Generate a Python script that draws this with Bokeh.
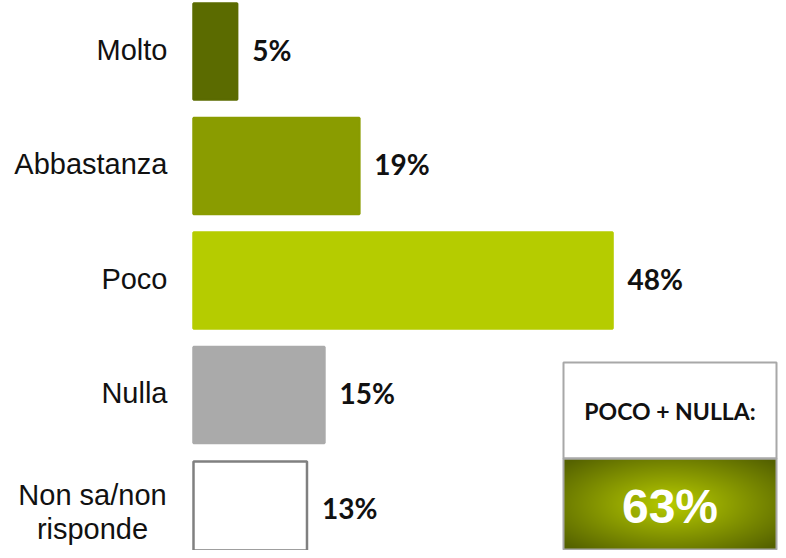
import numpy as np
from bokeh.plotting import figure
from bokeh.models import ColumnDataSource, Range1d
from bokeh.core.properties import value
from bokeh.embed import file_html
from bokeh.resources import INLINE

# ---- data ----
categories = ["Molto", "Abbastanza", "Poco", "Nulla", "Non sa/non risponde"]
label_lines = [["Molto"], ["Abbastanza"], ["Poco"], ["Nulla"], ["Non sa/non", "risponde"]]
percentages = [5, 19, 48, 15, 13]
value_labels = ["5%", "19%", "48%", "15%", "13%"]
summary_title = "POCO + NULLA:"
summary_value = percentages[2] + percentages[3]
summary_label = f"{summary_value}%"

fill_colors = ["#5b6b00", "#8a9c00", "#b5cc00", "#aaaaaa", "#ffffff"]
line_colors = ["#5b6b00", "#8a9c00", "#b5cc00", "#aaaaaa", "#808080"]

W, H = 778, 550
px_per_pct = 8.73
x_left_px = 193
row_px = 114.5
top_off = 51

x_start = -x_left_px / px_per_pct
x_end = (W - x_left_px) / px_per_pct
y_top = -top_off / row_px
y_bot = y_top + H / row_px

p = figure(width=W, height=H, output_backend="svg", toolbar_location=None,
           x_range=Range1d(x_start, x_end), y_range=Range1d(y_bot, y_top),
           min_border=0, outline_line_color=None, background_fill_color="white",
           border_fill_color="white")
p.axis.visible = False
p.grid.visible = False

idx = list(range(len(categories)))
src = ColumnDataSource(dict(y=idx, right=percentages, fill=fill_colors, line=line_colors,
                            lab=value_labels))
p.hbar(y="y", left=0, right="right", height=0.84, fill_color="fill", line_color="line",
       line_width=2.5, source=src)

p.text(x="right", y="y", text="lab", source=src, x_offset=15, y_offset=-2,
       text_align="left", text_baseline="middle", text_font=value("Lato"),
       text_font_style="bold", text_font_size="28px", text_color="#111111")

# category labels
single_y = [i for i, l in enumerate(label_lines) if len(l) == 1]
single_t = [label_lines[i][0] for i in single_y]
p.text(x=[0] * len(single_y), y=single_y, text=single_t, x_offset=-26, y_offset=-2,
       text_align="right", text_baseline="alphabetic", text_font=value("Liberation Sans"),
       text_font_size="29px", text_color="#111111")
multi_y = [i for i, l in enumerate(label_lines) if len(l) > 1]
for i in multi_y:
    p.text(x=[0], y=[i], text=[label_lines[i][0]], x_offset=-101, y_offset=-15,
           text_align="center", text_baseline="alphabetic", text_font=value("Liberation Sans"),
           text_font_size="29px", text_color="#111111")
    p.text(x=[0], y=[i], text=[label_lines[i][1]], x_offset=-101, y_offset=19,
           text_align="center", text_baseline="alphabetic", text_font=value("Liberation Sans"),
           text_font_size="29px", text_color="#111111")

# summary box (pixel layout converted to data space)
bx0 = x_start + 563 / px_per_pct
bx1 = x_start + 776 / px_per_pct
by0 = y_top + 362 / row_px
bym = y_top + 458 / row_px
by1 = y_top + 549 / row_px

# radial gradient image (decoration)
gw, gh = 214, 91
gx = np.linspace(-1, 1, gw)
gy = np.linspace(-1, 1, gh)
XX, YY = np.meshgrid(gx, gy)
r = np.clip(np.sqrt(XX ** 2 + YY ** 2) / 1.35, 0, 1)
c_in = np.array([0xb8, 0xcc, 0x00])
c_out = np.array([0x55, 0x62, 0x00])
rgb = c_in[None, None, :] * (1 - r[..., None]) + c_out[None, None, :] * r[..., None]
img = np.zeros((gh, gw), dtype=np.uint32)
view = img.view(dtype=np.uint8).reshape((gh, gw, 4))
view[..., 0] = rgb[..., 0].astype(np.uint8)
view[..., 1] = rgb[..., 1].astype(np.uint8)
view[..., 2] = rgb[..., 2].astype(np.uint8)
view[..., 3] = 255
p.image_rgba(image=[img], x=bx0, y=bym, dw=bx1 - bx0, dh=by1 - bym)

p.quad(left=[bx0], right=[bx1], top=[by0], bottom=[bym], fill_color="white",
       line_color="#a8a8a8", line_width=2)
p.quad(left=[bx0], right=[bx1], top=[bym], bottom=[by1], fill_color=None,
       line_color="#a8a8a8", line_width=2)

cx = (bx0 + bx1) / 2
p.text(x=[cx], y=[(by0 + bym) / 2], text=[summary_title], text_align="center",
       text_baseline="middle", text_font=value("Lato"), text_font_style="bold",
       text_font_size="23px", text_color="#111111", y_offset=0)
p.text(x=[cx], y=[(bym + by1) / 2], text=[summary_label], text_align="center",
       text_baseline="middle", text_font=value("Liberation Sans"), text_font_style="bold",
       text_font_size="48px", text_color="white", y_offset=2)

open("out.html", "w").write(file_html(p, INLINE))
